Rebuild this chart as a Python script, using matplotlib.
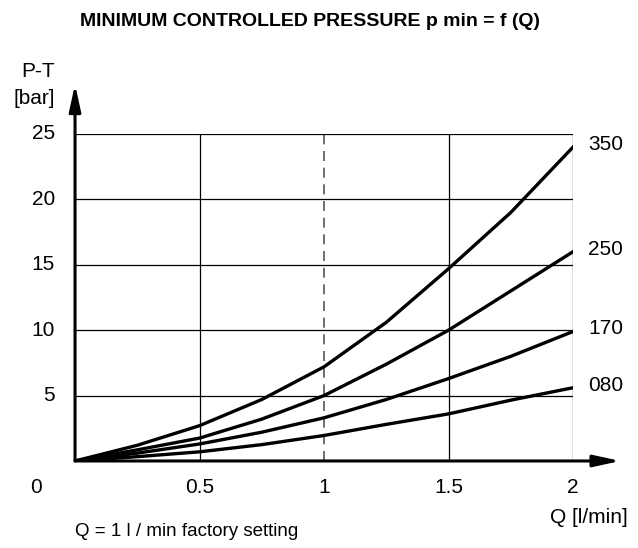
import matplotlib.pyplot as plt
import numpy as np

plt.rcParams['font.family'] = ['Liberation Sans', 'DejaVu Sans']

# flow Q [l/min] and P-T pressure [bar] per spring setting
q = [0, 0.25, 0.5, 0.75, 1.0, 1.25, 1.5, 1.75, 2.0]
p350 = [0, 1.2, 2.7, 4.7, 7.2, 10.6, 14.7, 19.0, 24.0]
p250 = [0, 0.85, 1.75, 3.2, 5.0, 7.4, 10.0, 13.0, 16.0]
p170 = [0, 0.6, 1.3, 2.2, 3.3, 4.7, 6.3, 8.0, 9.9]
p080 = [0, 0.33, 0.7, 1.25, 1.95, 2.8, 3.6, 4.65, 5.6]
series = [('350', p350), ('250', p250), ('170', p170), ('080', p080)]

xticks = [0.5, 1, 1.5, 2]
xticklabels = ['0.5', '1', '1.5', '2']
yticks = [5, 10, 15, 20, 25]

fig = plt.figure(figsize=(6.38, 5.48), dpi=100)
ax = fig.add_axes([0.1176, 0.1588, 0.7806, 0.5967])
ax.set_xlim(0, 2)
ax.set_ylim(0, 25)

# grid
for x in [0.5, 1.5, 2]:
    ax.plot([x, x], [0, 25], color='black', lw=0.9, zorder=1)
ax.plot([1, 1], [0, 25], color='#555555', lw=1.2, ls=(0, (6, 4)), zorder=1)
for y in yticks:
    ax.plot([0, 2], [y, y], color='black', lw=0.9, zorder=1)

for name, p in series:
    ax.plot(q, p, color='black', lw=2.4, zorder=3)
    ax.text(2.06, p[-1] + 0.2, name, fontsize=15, ha='left', va='center')

for s in ax.spines.values():
    s.set_visible(False)
ax.set_xticks([])
ax.set_yticks([])

# axes with arrows
ax.annotate('', xy=(0, 28.8), xytext=(0, 0), xycoords='data',
            arrowprops=dict(arrowstyle='-|>,head_length=1.6,head_width=0.35',
                            color='black', lw=2.2, shrinkA=0, shrinkB=0),
            annotation_clip=False)
ax.annotate('', xy=(2.19, 0), xytext=(0, 0), xycoords='data',
            arrowprops=dict(arrowstyle='-|>,head_length=1.6,head_width=0.35',
                            color='black', lw=2.2, shrinkA=0, shrinkB=0),
            annotation_clip=False)

for y in yticks:
    ax.text(-0.08, y, str(y), fontsize=15, ha='right', va='center')
for x, lab in zip(xticks, xticklabels):
    ax.text(x, -2.0, lab, fontsize=15, ha='center', va='center')
ax.text(-0.157, -2.0, '0', fontsize=15, ha='center', va='center')

ax.text(-0.08, 29.8, 'P-T', fontsize=15, ha='right', va='center')
ax.text(-0.08, 27.7, '[bar]', fontsize=15, ha='right', va='center')
ax.text(2.22, -4.3, 'Q [l/min]', fontsize=15, ha='right', va='center')
fig.text(0.1176, 0.015, 'Q = 1 l / min factory setting', fontsize=13.5, ha='left', va='bottom')
fig.text(0.486, 0.96, 'MINIMUM CONTROLLED PRESSURE p min = f (Q)', fontsize=14,
         fontweight='bold', ha='center', va='center')

fig.savefig('out.png', dpi=100)
